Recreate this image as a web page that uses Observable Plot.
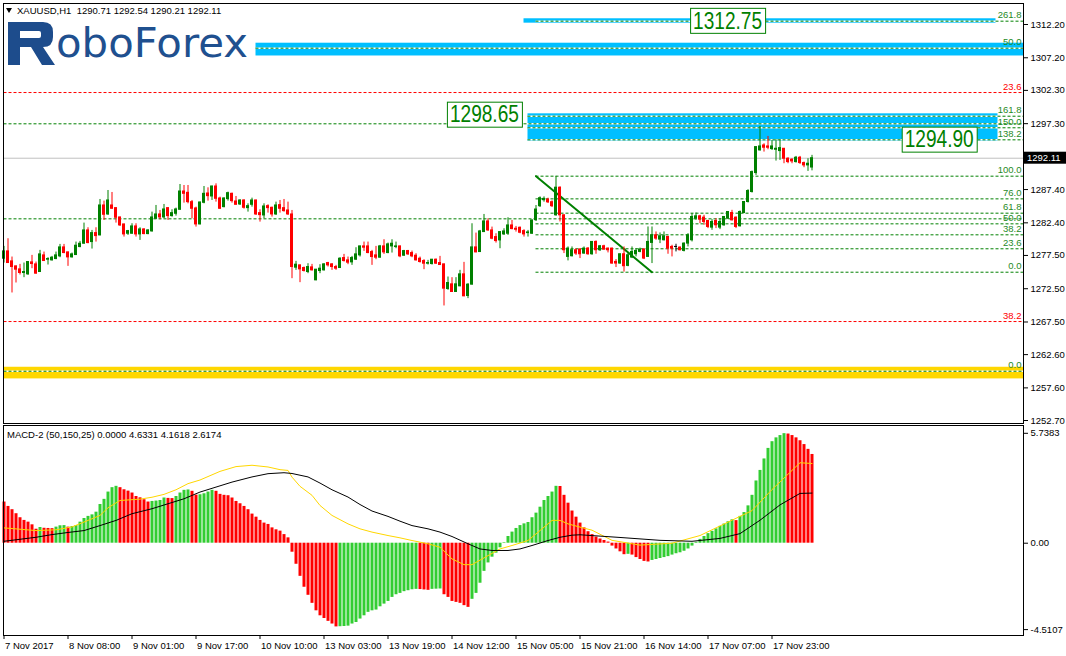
<!DOCTYPE html>
<html><head><meta charset="utf-8">
<script src="https://cdn.jsdelivr.net/npm/d3@7"></script>
<script src="https://cdn.jsdelivr.net/npm/@observablehq/plot@0.6"></script>
<style>
body{margin:0;background:#fff;}
#wrap{position:relative;width:1066px;height:656px;overflow:hidden;font-family:'Liberation Sans',Arial,sans-serif;}
#wrap > svg{position:absolute;left:0;overflow:visible;}
.hdr{position:absolute;font-size:9.5px;line-height:11px;color:#000;white-space:pre;}
.tri{position:absolute;left:6px;top:8px;width:0;height:0;border-left:3.5px solid transparent;border-right:3.5px solid transparent;border-top:5px solid #000;}
</style></head><body><div id="wrap"></div><script>
// ---------- DATA ----------
const symbolHeader = "XAUUSD,H1  1290.71 1292.54 1290.21 1292.11";
const macdHeader = "MACD-2 (50,150,25) 0.0000 4.6331 4.1618 2.6174";

const opens = [1277.01,1278.11,1276.61,1275.86,1275.41,1274.86,1274.66,1276.46,1276.16,1275.01,1277.51,1276.86,1276.76,1276.96,1277.36,1278.71,1277.96,1277.21,1277.56,1278.76,
1279.26,1281.26,1279.51,1280.86,1280.51,1285.01,1283.66,1285.01,1284.61,1283.21,1282.16,1280.76,1280.76,1281.86,1280.66,1281.41,1280.71,1281.11,1283.01,1283.66,
1283.21,1284.61,1283.41,1283.76,1284.36,1287.11,1286.91,1285.51,1284.56,1282.16,1285.41,1286.81,1286.36,1287.86,1286.06,1284.76,1285.96,1286.76,1285.61,1285.16,
1285.76,1284.61,1285.11,1285.76,1283.86,1283.51,1284.91,1284.66,1283.66,1285.06,1284.61,1284.26,1283.66,1275.66,1276.01,1275.61,1275.01,1275.71,1273.76,1275.16,
1275.26,1276.36,1276.16,1275.76,1275.61,1277.11,1276.76,1276.46,1276.86,1277.51,1278.86,1278.86,1278.01,1277.51,1277.16,1278.86,1277.86,1278.86,1278.76,1278.86,
1277.46,1278.16,1277.86,1277.46,1277.01,1276.66,1276.26,1276.21,1276.86,1276.36,1276.16,1272.46,1273.16,1272.01,1272.86,1274.66,1271.41,1273.11,1278.71,1278.01,
1281.01,1282.61,1281.26,1280.26,1279.76,1280.66,1280.76,1282.01,1281.51,1281.66,1281.16,1280.86,1280.76,1282.80,1284.90,1285.80,1285.88,1285.50,1283.53,1287.68,
1283.53,1277.28,1277.38,1278.28,1278.38,1277.78,1278.53,1277.68,1279.53,1278.28,1278.88,1278.53,1278.53,1276.53,1276.28,1277.68,1275.93,1277.18,1277.68,1278.03,
1278.38,1277.28,1279.38,1280.53,1279.88,1279.78,1280.28,1278.78,1278.78,1278.68,1278.18,1279.28,1279.78,1283.03,1283.38,1283.18,1282.68,1281.68,1282.68,1281.68,
1282.03,1283.03,1283.88,1283.18,1281.88,1283.88,1285.53,1287.03,1289.88,1293.28,1294.03,1293.88,1293.48,1293.38,1293.18,1293.53,1292.03,1291.88,1291.53,1292.18,
1291.38,1291.03,1290.71];
const highs = [1278.86,1280.01,1277.26,1275.90,1276.16,1276.36,1276.56,1277.51,1276.51,1278.26,1278.01,1277.16,1277.36,1278.01,1279.16,1279.16,1278.00,1277.86,1279.51,1279.61,
1282.36,1281.66,1281.26,1281.66,1285.91,1285.66,1287.26,1286.96,1284.65,1283.25,1282.20,1281.26,1282.26,1282.26,1281.66,1281.51,1281.36,1284.01,1285.01,1284.26,
1285.16,1284.65,1284.36,1284.61,1288.16,1288.01,1288.01,1285.76,1284.76,1285.50,1287.86,1287.66,1287.90,1288.26,1286.26,1286.16,1287.01,1286.86,1286.36,1285.86,
1285.86,1285.26,1286.11,1285.80,1284.36,1285.26,1285.11,1284.76,1285.51,1285.76,1285.91,1285.51,1284.26,1276.61,1276.05,1275.76,1276.26,1276.16,1275.40,1276.11,
1276.26,1276.46,1276.26,1276.01,1277.16,1277.66,1277.26,1277.36,1278.66,1278.90,1279.51,1279.51,1278.26,1278.86,1279.01,1279.86,1279.36,1279.86,1279.51,1278.90,
1278.26,1278.26,1278.16,1277.76,1277.26,1276.86,1276.76,1276.90,1276.96,1277.36,1276.20,1274.26,1274.16,1274.16,1275.26,1276.46,1273.26,1282.26,1280.86,1281.26,
1283.66,1283.01,1281.76,1280.76,1281.05,1281.51,1283.16,1282.76,1281.86,1281.76,1281.36,1281.26,1282.80,1285.00,1286.30,1286.30,1286.10,1285.70,1289.38,1287.80,
1283.60,1278.78,1278.78,1278.50,1278.53,1278.78,1278.68,1279.55,1279.68,1279.00,1279.03,1278.60,1278.60,1276.88,1277.70,1278.78,1277.90,1278.78,1278.53,1278.60,
1278.53,1281.78,1281.78,1281.03,1280.88,1281.03,1280.38,1279.03,1279.18,1278.78,1279.38,1280.78,1283.78,1283.88,1283.53,1283.53,1282.78,1282.88,1283.03,1283.03,
1283.28,1284.05,1284.28,1283.28,1284.18,1285.55,1287.38,1290.18,1293.80,1296.88,1294.28,1295.38,1294.78,1294.88,1294.88,1293.55,1292.18,1292.03,1292.38,1292.38,
1291.53,1292.03,1292.54];
const lows = [1276.36,1276.30,1271.86,1273.36,1274.56,1274.16,1274.51,1275.51,1274.70,1274.95,1276.60,1276.06,1276.66,1276.86,1277.16,1277.76,1275.86,1277.11,1277.50,1278.66,
1279.20,1279.26,1278.46,1279.51,1280.45,1282.76,1283.51,1284.45,1282.36,1281.86,1280.26,1280.51,1280.70,1280.26,1279.76,1280.61,1280.61,1281.01,1282.95,1282.86,
1283.01,1282.76,1283.26,1283.41,1284.30,1285.36,1285.26,1283.01,1281.76,1282.10,1285.26,1285.66,1285.76,1285.51,1284.41,1284.66,1285.66,1285.36,1285.05,1285.01,
1284.46,1284.01,1284.76,1283.51,1282.51,1283.01,1283.86,1283.26,1283.51,1283.86,1284.01,1283.51,1274.01,1275.26,1273.41,1275.01,1274.76,1275.16,1273.70,1274.76,
1275.16,1275.76,1275.26,1275.26,1275.55,1276.51,1276.11,1276.01,1276.76,1277.26,1278.11,1277.76,1276.01,1276.86,1277.10,1277.66,1277.76,1277.86,1278.51,1277.16,
1277.36,1277.51,1277.16,1276.66,1276.36,1275.36,1276.06,1276.06,1276.16,1276.01,1269.91,1272.26,1271.95,1271.95,1272.80,1271.30,1271.01,1273.05,1277.90,1277.95,
1280.95,1281.11,1279.86,1279.36,1278.51,1280.51,1280.51,1281.36,1281.01,1280.76,1280.26,1280.26,1280.66,1282.60,1284.70,1285.50,1285.30,1284.70,1283.40,1282.53,
1277.78,1276.68,1277.28,1277.50,1277.03,1277.68,1277.53,1277.53,1277.68,1278.10,1278.28,1277.88,1276.18,1275.68,1276.18,1275.00,1275.80,1277.03,1277.28,1277.90,
1276.88,1277.20,1276.28,1279.78,1279.28,1279.68,1277.68,1277.28,1278.03,1278.18,1278.03,1278.78,1279.53,1282.78,1282.28,1282.03,1281.53,1281.28,1281.53,1281.38,
1281.88,1282.88,1282.68,1281.53,1281.78,1283.78,1285.38,1286.88,1289.53,1293.20,1293.03,1293.38,1293.28,1291.68,1291.78,1291.28,1291.28,1291.28,1291.38,1291.18,
1290.68,1290.13,1290.21];
const closes = [1278.11,1276.36,1275.76,1275.36,1274.86,1275.01,1276.51,1276.21,1274.76,1277.66,1276.66,1276.96,1277.16,1277.51,1278.71,1277.86,1277.21,1277.66,1278.96,1279.26,
1281.26,1279.36,1280.86,1280.41,1285.01,1283.61,1285.76,1284.51,1283.16,1282.01,1280.66,1281.16,1281.86,1280.66,1281.41,1280.71,1281.26,1283.21,1283.66,1283.21,
1284.41,1283.41,1283.86,1284.41,1287.11,1286.76,1285.51,1284.51,1282.16,1285.46,1286.76,1286.41,1287.86,1286.01,1284.51,1286.06,1286.86,1285.66,1285.11,1285.76,
1284.66,1284.91,1285.76,1283.66,1283.56,1284.86,1284.61,1283.66,1285.01,1284.51,1284.16,1283.66,1275.76,1276.11,1275.41,1275.16,1275.76,1275.26,1275.36,1275.51,
1276.16,1276.01,1275.76,1275.51,1277.01,1276.66,1276.41,1277.11,1277.66,1278.86,1278.66,1277.86,1277.26,1277.16,1278.86,1277.96,1279.16,1279.26,1278.86,1277.36,
1278.16,1277.66,1277.36,1276.76,1276.51,1276.26,1276.36,1276.86,1276.26,1276.06,1272.51,1273.36,1272.01,1273.16,1274.66,1271.36,1273.11,1278.71,1277.96,1281.11,
1282.61,1281.26,1280.01,1279.66,1281.01,1281.11,1282.01,1281.46,1281.36,1280.91,1280.66,1280.96,1282.76,1284.40,1286.10,1286.00,1285.48,1284.90,1287.68,1283.53,
1278.28,1278.53,1278.28,1277.78,1277.68,1278.53,1277.68,1279.53,1278.28,1278.88,1278.38,1278.28,1276.28,1276.28,1277.68,1275.88,1277.53,1278.03,1278.18,1278.38,
1277.03,1279.53,1280.53,1280.03,1280.38,1280.38,1278.53,1278.53,1278.78,1278.28,1279.28,1280.53,1283.28,1283.38,1282.88,1282.53,1281.78,1282.53,1282.03,1282.53,
1283.28,1284.03,1282.78,1281.78,1284.03,1285.53,1287.18,1290.03,1293.78,1293.88,1293.68,1293.68,1293.88,1293.53,1293.63,1292.03,1291.53,1291.63,1292.18,1291.38,
1291.03,1291.28,1292.11];

const histValues = [2.15,1.92,1.75,1.54,1.33,1.19,1.10,0.96,0.73,0.82,0.78,0.77,0.76,0.84,0.91,0.92,0.84,0.87,0.92,1.10,
1.29,1.40,1.48,1.62,2.02,2.29,2.67,2.90,2.97,2.90,2.79,2.72,2.62,2.44,2.37,2.27,2.15,2.18,2.20,2.23,
2.36,2.34,2.33,2.44,2.62,2.76,2.78,2.71,2.51,2.53,2.58,2.67,2.76,2.71,2.55,2.50,2.48,2.36,2.18,2.06,
1.92,1.75,1.52,1.36,1.19,1.05,0.98,0.80,0.70,0.63,0.45,0.28,-0.47,-1.10,-1.73,-2.30,-2.72,-3.14,-3.53,-3.79,
-3.93,-4.08,-4.22,-4.37,-4.36,-4.35,-4.33,-4.22,-4.14,-3.96,-3.79,-3.61,-3.53,-3.49,-3.32,-3.18,-3.04,-2.83,-2.69,-2.62,
-2.53,-2.48,-2.43,-2.41,-2.42,-2.44,-2.46,-2.41,-2.40,-2.39,-2.69,-2.83,-3.04,-3.09,-3.14,-3.26,-3.35,-2.93,-2.62,-2.09,
-1.47,-1.03,-0.73,-0.52,-0.24,0.03,0.35,0.58,0.77,0.92,1.01,1.08,1.33,1.57,1.88,2.23,2.44,2.67,2.97,2.96,
2.50,2.09,1.68,1.36,1.05,0.80,0.60,0.45,0.32,0.22,0.14,0.06,-0.15,-0.30,-0.45,-0.60,-0.58,-0.62,-0.75,-0.85,
-0.95,-0.98,-0.90,-0.85,-0.80,-0.75,-0.70,-0.62,-0.55,-0.50,-0.42,-0.30,-0.15,0.05,0.20,0.35,0.50,0.62,0.75,0.88,
1.00,1.12,1.22,1.18,1.40,1.60,1.95,2.50,3.25,3.80,4.40,4.95,5.30,5.50,5.62,5.72,5.70,5.62,5.50,5.35,
5.15,4.90,4.6331];

const signalIdx = [0,8,13,17,21,24,26,29,34,37,40,43,46,49,54,58,62,66,69,71,72,74,77,79,82,86,89,92,96,99,102,106,109,112,115,117,121,124,127,131,134,137,139,141,144,147,152,159,167,174,182,187,192,197,199,202];
const signalVal = [0.80,0.66,0.70,0.85,1.19,1.45,1.85,2.23,2.30,2.40,2.55,2.79,3.11,3.30,3.75,4.00,4.07,3.98,3.84,3.80,3.45,2.97,2.50,1.97,1.45,1.01,0.75,0.58,0.40,0.28,0.14,-0.03,-0.21,-0.82,-1.12,-1.12,-0.65,-0.30,-0.12,0.14,0.66,1.19,1.19,1.01,0.84,0.68,0.15,-0.10,0.00,0.40,1.20,1.70,2.80,3.80,4.20,4.1618];
const slowIdx = [0,8,12,16,20,24,28,32,37,41,45,49,53,57,62,66,70,72,76,79,82,86,89,92,96,99,102,106,109,112,116,119,122,126,129,132,136,139,142,144,154,164,172,179,184,189,194,199,202];
const slowVal = [0.10,0.31,0.45,0.56,0.66,0.92,1.19,1.54,1.80,2.06,2.32,2.67,2.93,3.19,3.46,3.63,3.68,3.64,3.46,3.14,2.79,2.41,2.02,1.68,1.40,1.15,0.92,0.75,0.58,0.35,-0.03,-0.30,-0.38,-0.38,-0.30,-0.12,0.14,0.31,0.42,0.44,0.30,0.15,0.10,0.25,0.50,1.20,2.00,2.60,2.6174];

const priceTicks = [1312.20,1307.20,1302.30,1297.30,1287.40,1282.40,1277.50,1272.50,1267.50,1262.60,1257.60,1252.70];
const currentPrice = 1292.11;
const macdTicks = [5.7383, 0, -4.5107];
const macdTickLabels = ["5.7383", "0.00", "-4.5107"];
const timeTickIdx = [0,16,32,48,64,80,96,112,128,144,160,176,192];
const timeLabels = ["7 Nov 2017","8 Nov 08:00","9 Nov 01:00","9 Nov 17:00","10 Nov 10:00","13 Nov 03:00","13 Nov 19:00","14 Nov 12:00","15 Nov 05:00","15 Nov 21:00","16 Nov 14:00","17 Nov 07:00","17 Nov 23:00"];

// Fibonacci / level lines
const greenLevelValues = [1312.70,1308.64,1298.42,1297.28,1296.68,1294.87,1289.41,1286.00,1283.85,1283.00,1282.25,1280.60,1278.50,1274.98,1260.10];
const greenLevelLabels = ["261.8","50.0","161.8","","150.0","138.2","100.0","76.0","61.8","","50.0","38.2","23.6","0.0","0.0"];
const greenLevelStart = [133,63,131,0,131,131,133,133,133,0,133,133,133,133,0];
const redLevelValues = [1301.98,1267.57];
const redLevelLabels = ["23.6","38.2"];
// zones (rectangles): price low/high, bar start/end
const zoneLow = [1312.40,1307.47,1294.66];
const zoneHigh = [1313.06,1309.39,1298.78];
const zoneStart = [130,63,131];
const zoneEnd = [248,255,248.5];
const supportLow = [1258.95], supportHigh = [1260.70];
// trend line (bar index, price)
const trendIdx = [133,162];
const trendVal = [1289.41,1274.98];
// boxed price targets
const targetValues = [1312.75,1298.65,1294.90];
const targetIdx = [180.9,120.1,233.8];

// ---------- BUILD ----------
const wrap = document.getElementById("wrap");
const GREEN = "#008000", RED = "#ff0000", CYAN = "#00bfff", GOLD = "#ffd700";
const font = "'Liberation Sans', Arial, sans-serif";
const xScale = {type: "linear", domain: [0, 255], range: [3.5, 1023.5]};
const priceDomain = [1252.7, 1312.2], priceRange = [420, 24];
const xEnd = 255;

const candles = opens.map((o, i) => ({i, o, h: highs[i], l: lows[i], c: closes[i]}));
const candleColor = d => d.c > d.o ? GREEN : d.c < d.o ? RED : "#000000";
const greenLevels = greenLevelValues.map((v, k) => ({v, label: greenLevelLabels[k], from: greenLevelStart[k]}));
const redLevels = redLevelValues.map((v, k) => ({v, label: redLevelLabels[k], from: 0}));
const allLevels = greenLevels.concat(redLevels);
const zones = zoneLow.map((lo, k) => ({lo, hi: zoneHigh[k], a: zoneStart[k], b: zoneEnd[k]}));
const support = supportLow.map((lo, k) => ({lo, hi: supportHigh[k]}));
const trend = trendIdx.map((x, k) => ({x, y: trendVal[k]}));
const targets = targetValues.map((v, k) => ({v, x: targetIdx[k], label: v.toFixed(2)}));

const chartA = Plot.plot({
  width: 1066, height: 424,
  marginLeft: 3, marginRight: 43, marginTop: 3, marginBottom: 1,
  style: {fontFamily: font, fontSize: "9.5px", background: "transparent", color: "#000", overflow: "visible"},
  x: {...xScale, axis: null},
  y: {domain: priceDomain, range: priceRange, axis: "right", ticks: priceTicks, tickFormat: d => d.toFixed(2), tickSize: 4, tickPadding: 3, label: null},
  color: {type: "identity"},
  marks: [
    Plot.rect(zones, {x1: "a", x2: "b", y1: "lo", y2: "hi", fill: CYAN}),
    Plot.rect(support, {x1: d => 0, x2: d => xEnd, y1: "lo", y2: "hi", fill: GOLD}),
    Plot.ruleY(allLevels, {y: "v", x1: "from", x2: d => xEnd, stroke: "#ffffff", strokeWidth: 1.5}),
    Plot.ruleY(greenLevels, {y: "v", x1: "from", x2: d => xEnd, stroke: GREEN, strokeDasharray: "3,2"}),
    Plot.ruleY(redLevels, {y: "v", x1: "from", x2: d => xEnd, stroke: RED, strokeDasharray: "3,2"}),
    Plot.ruleY([currentPrice], {stroke: "#c0c0c0"}),
    Plot.line(trend, {x: "x", y: "y", stroke: GREEN, strokeWidth: 2}),
    Plot.ruleX(candles, {x: "i", y1: "l", y2: "h", stroke: candleColor}),
    Plot.rect(candles, {x1: d => d.i - 0.375, x2: d => d.i + 0.375, y1: d => Math.min(d.o, d.c), y2: d => Math.max(d.o, d.c), fill: candleColor, insetTop: -0.5, insetBottom: -0.5}),
    Plot.text(greenLevels, {y: "v", text: "label", frameAnchor: "right", textAnchor: "end", dx: -2, dy: -6, fill: "#1f8a1f"}),
    Plot.text(redLevels, {y: "v", text: "label", frameAnchor: "right", textAnchor: "end", dx: -2, dy: -6, fill: RED}),
    Plot.text(targets, {x: "x", y: "v", text: "label", fontSize: 24, fontFamily: "'Liberation Sans Narrow', 'Liberation Sans', Arial, sans-serif", fill: GREEN}),
    Plot.frame({stroke: "#000"})
  ]
});
chartA.style.top = "0px";
wrap.appendChild(chartA);

// ---- boxed labels + current price tag
const yA = d3.scaleLinear(priceDomain, priceRange);
const rootA = chartA.getBoundingClientRect();
const targetLabels = targets.map(t => t.label);
d3.select(chartA).selectAll("text").each(function() {
  const k = targetLabels.indexOf(this.textContent);
  if (k < 0 || this.getAttribute("font-size") === null && this.parentNode.getAttribute("font-size") === null) {
    if (k < 0) return;
  }
  this.setAttribute("textLength", 69);
  this.setAttribute("lengthAdjust", "spacingAndGlyphs");
  const r = this.getBoundingClientRect();
  const cy = yA(targets[k].v);
  const rect = document.createElementNS("http://www.w3.org/2000/svg", "rect");
  rect.setAttribute("x", (r.left + r.width / 2 - rootA.left) - 37.5);
  rect.setAttribute("width", 75);
  rect.setAttribute("y", cy - 12.5);
  rect.setAttribute("height", 25);
  rect.setAttribute("fill", "#fff");
  rect.setAttribute("stroke", GREEN);
  const g = this.parentNode;
  g.insertBefore(rect, this);
});
{
  const cy = yA(currentPrice);
  const s = d3.select(chartA);
  s.append("rect").attr("x", 1024).attr("y", cy - 6).attr("width", 42).attr("height", 12).attr("fill", "#000");
  s.append("text").attr("x", 1027).attr("y", cy + 3.5).attr("text-anchor", "start").attr("fill", "#fff").attr("font-size", "9.5px").attr("font-family", font).text(currentPrice.toFixed(2));
}

// ---- MACD panel
const hist = histValues.map((v, i) => ({i, v, color: (i === 0 || v < histValues[i - 1]) ? "#ff0000" : "#32cd32"}));
const signal = signalIdx.map((x, k) => ({x, y: signalVal[k]}));
const slow = slowIdx.map((x, k) => ({x, y: slowVal[k]}));

const chartB = Plot.plot({
  width: 1066, height: 232,
  marginLeft: 3, marginRight: 43, marginTop: 1, marginBottom: 21,
  style: {fontFamily: font, fontSize: "9.5px", background: "transparent", color: "#000"},
  x: {...xScale, axis: "bottom", ticks: timeTickIdx, tickFormat: d => timeLabels[timeTickIdx.indexOf(d)], tickSize: 4, tickPadding: 3, label: null},
  y: {domain: [-4.5107, 5.7383], range: [205.1, 8.8], axis: "right", ticks: macdTicks, tickFormat: d => macdTickLabels[macdTicks.indexOf(d)], tickSize: 4, tickPadding: 3, label: null},
  color: {type: "identity"},
  marks: [
    Plot.ruleX(hist, {x: "i", y1: d => 0, y2: "v", stroke: "color", strokeWidth: 3}),
    Plot.line(signal, {x: "x", y: "y", stroke: GOLD, strokeWidth: 1}),
    Plot.line(slow, {x: "x", y: "y", stroke: "#000", strokeWidth: 1}),
    Plot.frame({stroke: "#000"})
  ]
});
chartB.style.top = "424px";
wrap.appendChild(chartB);
d3.select(chartB).selectAll('g[aria-label^="x-axis"] text').attr("text-anchor", "start").attr("dx", "1");

// ---- headers and logo overlays
const tri = document.createElement("div"); tri.className = "tri"; wrap.appendChild(tri);
const h1 = document.createElement("div"); h1.className = "hdr"; h1.style.left = "17px"; h1.style.top = "5px"; h1.textContent = symbolHeader; wrap.appendChild(h1);
const h2 = document.createElement("div"); h2.className = "hdr"; h2.style.left = "7px"; h2.style.top = "429px"; h2.textContent = macdHeader; wrap.appendChild(h2);

const logo = d3.select(wrap).append("svg").attr("width", 260).attr("height", 70).style("top", "0px");
logo.append("path")
  .attr("d", "M8,22 H43 Q53,22 53,32 V37 Q53,47 43,47 L55,65 H42 L31,47 H20 V65 H8 Z M20,31 H39 Q41,31 41,33 V36 Q41,38 39,38 H20 Z")
  .attr("fill", "#1d4c8c").attr("fill-rule", "evenodd");
logo.append("text").attr("x", 56).attr("y", 57).attr("font-family", "'DejaVu Sans', sans-serif").attr("font-size", 40)
  .attr("fill", "#1f508f").attr("textLength", 192).attr("lengthAdjust", "spacingAndGlyphs").text("oboForex");
</script></body></html>
